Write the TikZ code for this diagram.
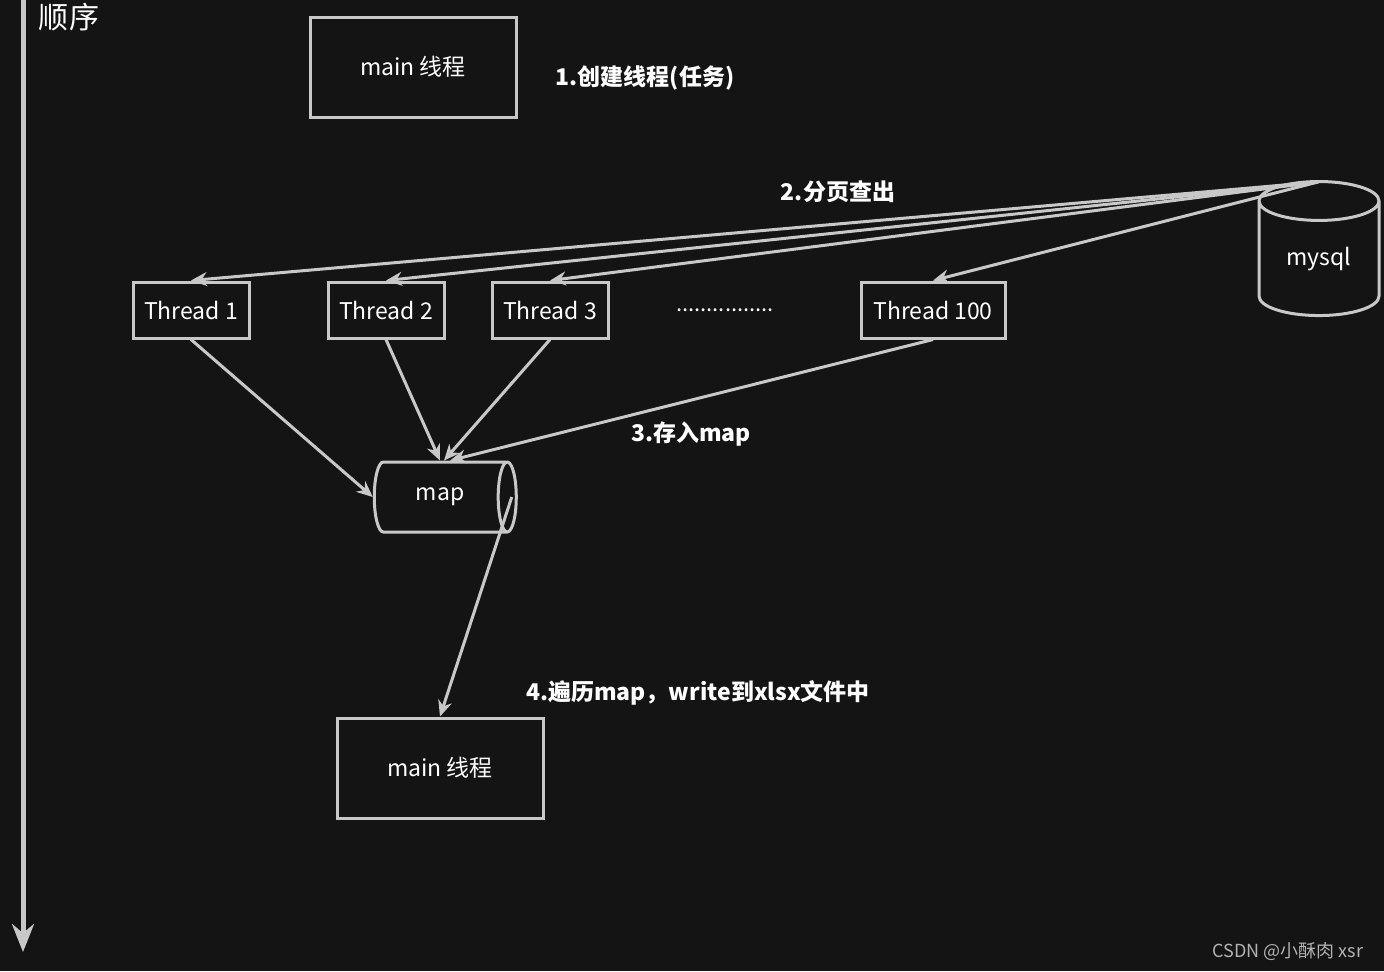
\documentclass[tikz,border=0pt]{standalone}
\usepackage{fontspec}
\setmainfont{Noto Sans CJK SC}
\usetikzlibrary{shapes.geometric,arrows.meta,positioning}
\definecolor{bg}{HTML}{141414}
\definecolor{ln}{HTML}{C8C8C8}
\begin{document}
\begin{tikzpicture}[x=0.5pt,y=-0.5pt]
  \tikzset{box/.style = {draw=ln,line width=1.5pt,text=white,font=\fontsize{11.5}{13}\selectfont,inner sep=0pt}}
  \tikzset{flow/.style = {draw=ln,line width=1.5pt,-{Stealth[length=8pt,width=7pt]}}}
  \tikzset{lbl/.style = {text=white,font=\fontsize{11.5}{13}\selectfont\bfseries}}
  \fill[bg] (0,0) rectangle (1384,971);
  \useasboundingbox (0,0) rectangle (1384,971);

  % time axis
  \coordinate (axtop) at (23,0);
  \coordinate (axbot) at (23,952);
  \draw[draw=ln,line width=2.5pt,-{Stealth[length=14pt,width=11pt]}] (axtop) -- (axbot);
  \node[text=white,font=\fontsize{15}{17}\selectfont] (order) at (69,17) {顺序};

  \node[box,minimum width=103pt,minimum height=50pt] (main1) at (413,67) {main 线程};
  \node[box,minimum width=103pt,minimum height=50pt] (main2) at (440,768) {main 线程};

  \node[box,minimum width=58pt,minimum height=28pt] (t1) at (191,310) {Thread 1};
  \node[box,minimum width=58pt,minimum height=28pt] (t2) at (386,310) {Thread 2};
  \node[box,minimum width=58pt,minimum height=28pt] (t3) at (550,310) {Thread 3};
  \node[box,minimum width=72pt,minimum height=28pt] (t100) at (933,310) {Thread 100};
  \node[text=white,font=\fontsize{11}{13}\selectfont] (dots) at (725,310) {................};

  \node[box,cylinder,shape border rotate=90,aspect=0.6,minimum width=60pt,minimum height=67pt] (mysql) at (1319,259) {mysql};
  \node[box,cylinder,aspect=1.0,minimum width=35pt,minimum height=71pt] (map) at (440,497) {map};
  \coordinate (src) at (1318,182);

  % queries
  \draw[flow] (src) -- (t1.north);
  \draw[flow] (src) -- (t2.north);
  \draw[flow] (src) -- (t3.north);
  \draw[flow] (src) -- (t100.north);

  % store
  \draw[flow] (t1.south) -- (map.west);
  \draw[flow] (t2.south) -- (map.north);
  \draw[flow] (t3.south) -- ([xshift=2pt]map.north);
  \draw[flow] (t100.south) -- ([xshift=5pt]map.north);
  \draw[flow] ([xshift=-3pt]map.east) -- (main2.north);

  \node[lbl] (l1) at (645,78) {1.创建线程(任务)};
  \node[lbl] (l2) at (838,192) {2.分页查出};
  \node[lbl] (l3) at (691,434) {3.存入map};
  \node[lbl] (l4) at (698,693) {4.遍历map，write到xlsx文件中};
  \node[text=ln!70!gray,font=\fontsize{9}{11}\selectfont] (mark) at (1288,951) {CSDN @小酥肉 xsr};
\end{tikzpicture}
\end{document}
